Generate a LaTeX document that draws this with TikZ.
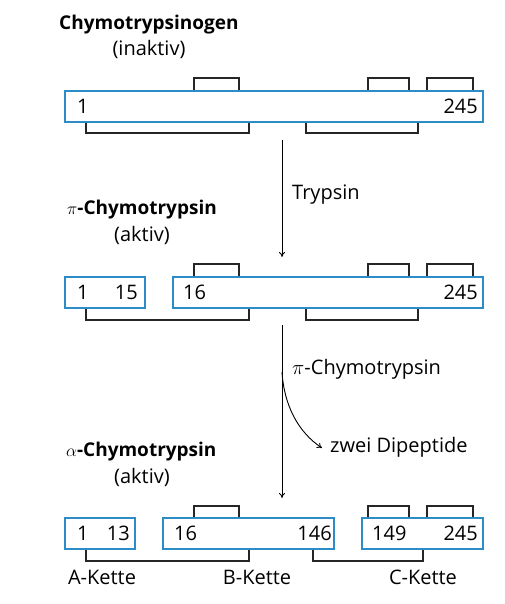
\documentclass[tikz,border=0pt]{standalone}
\usepackage{fontspec}
\setmainfont{Open Sans}
\usetikzlibrary{arrows.meta}
\definecolor{boxblue}{RGB}{45,140,200}
\tikzset{
  box/.style={draw=boxblue, line width=1.5pt, fill=white, inner sep=0pt, rectangle},
  bridge/.style={draw=black!85, line width=2pt},
  num/.style={inner sep=0pt, font=\fontsize{20}{24}\selectfont},
  ttl/.style={inner sep=0pt, font=\fontsize{19}{23}\selectfont\bfseries},
  sub/.style={inner sep=0pt, font=\fontsize{20}{24}\selectfont},
  lbl/.style={inner sep=0pt, font=\fontsize{20}{24}\selectfont},
  arr/.style={line width=0.9pt, -{To[length=5pt,width=6pt]}}
}
\begin{document}
\begin{tikzpicture}[x=1pt,y=-1pt]
\useasboundingbox (0,0) rectangle (504,604);
% ---------- Row 1 ----------
\node[ttl, anchor=west] (t1) at (59,25) {Chymotrypsinogen};
\node[sub] (s1) at (149,49) {(inaktiv)};
\draw[bridge] (194,91) -- (194,78) -- (239,78) -- (239,91);
\draw[bridge] (368,91) -- (368,78) -- (409,78) -- (409,91);
\draw[bridge] (427,91) -- (427,78) -- (473,78) -- (473,91);
\draw[bridge] (86,122) -- (86,133) -- (249,133) -- (249,122);
\draw[bridge] (306,122) -- (306,133) -- (418,133) -- (418,122);
\node[box, minimum width=418pt, minimum height=31pt] (p1) at (274,106.5) {};
\node[num, anchor=west] (n1a) at (77,106.5) {1};
\node[num, anchor=east] (n1b) at (478,106.5) {245};
% ---------- Arrow 1 ----------
\coordinate (a1s) at (282,140);
\coordinate (a1e) at (282,257);
\draw[arr] (a1s) -- (a1e);
\node[lbl, anchor=west] (tryp) at (292,195) {Trypsin};
% ---------- Row 2 ----------
\node[ttl, anchor=west] (t2) at (67,210) {$\pi$-Chymotrypsin};
\node[sub] (s2) at (142,235) {(aktiv)};
\draw[bridge] (194,277) -- (194,264) -- (239,264) -- (239,277);
\draw[bridge] (368,277) -- (368,264) -- (409,264) -- (409,277);
\draw[bridge] (427,277) -- (427,264) -- (473,264) -- (473,277);
\draw[bridge] (86,308) -- (86,320) -- (249,320) -- (249,308);
\draw[bridge] (306,308) -- (306,320) -- (418,320) -- (418,308);
\node[box, minimum width=80pt, minimum height=31pt] (p2a) at (105,292.5) {};
\node[box, minimum width=310pt, minimum height=31pt] (p2b) at (328,292.5) {};
\node[num, anchor=west] (n2a) at (77,292.5) {1};
\node[num, anchor=east] (n2b) at (138,292.5) {15};
\node[num, anchor=west] (n2c) at (183,292.5) {16};
\node[num, anchor=east] (n2d) at (478,292.5) {245};
% ---------- Arrow 2 ----------
\coordinate (a2s) at (282,325);
\coordinate (a2e) at (282,498);
\coordinate (a2b) at (282,372);
\draw[arr] (a2s) -- (a2e);
\node[lbl, anchor=west] (pich) at (292,369) {$\pi$-Chymotrypsin};
\node[lbl, anchor=west] (dip) at (330,447) {zwei Dipeptide};
\draw[arr] (a2b) .. controls (284,405) and (298,432) .. ([xshift=-8pt,yshift=-1pt]dip.west);
% ---------- Row 3 ----------
\node[ttl, anchor=west] (t3) at (66,452) {$\alpha$-Chymotrypsin};
\node[sub] (s3) at (142,477) {(aktiv)};
\draw[bridge] (194,518) -- (194,506) -- (239,506) -- (239,518);
\draw[bridge] (368,518) -- (368,506) -- (409,506) -- (409,518);
\draw[bridge] (427,518) -- (427,506) -- (473,506) -- (473,518);
\draw[bridge] (86,549) -- (86,561) -- (249,561) -- (249,549);
\draw[bridge] (313,549) -- (313,561) -- (423,561) -- (423,549);
\node[box, minimum width=70pt, minimum height=31pt] (p3a) at (100,533.5) {};
\node[box, minimum width=171pt, minimum height=31pt] (p3b) at (248.5,533.5) {};
\node[box, minimum width=121pt, minimum height=31pt] (p3c) at (422.5,533.5) {};
\node[num, anchor=west] (n3a) at (77,533.5) {1};
\node[num, anchor=east] (n3b) at (130,533.5) {13};
\node[num, anchor=west] (n3c) at (174,533.5) {16};
\node[num, anchor=east] (n3d) at (332,533.5) {146};
\node[num, anchor=west] (n3e) at (372,533.5) {149};
\node[num, anchor=east] (n3f) at (478,533.5) {245};
\node[lbl] (ka) at (102,577) {A-Kette};
\node[lbl] (kb) at (257,577) {B-Kette};
\node[lbl] (kc) at (423,577) {C-Kette};
\end{tikzpicture}
\end{document}
